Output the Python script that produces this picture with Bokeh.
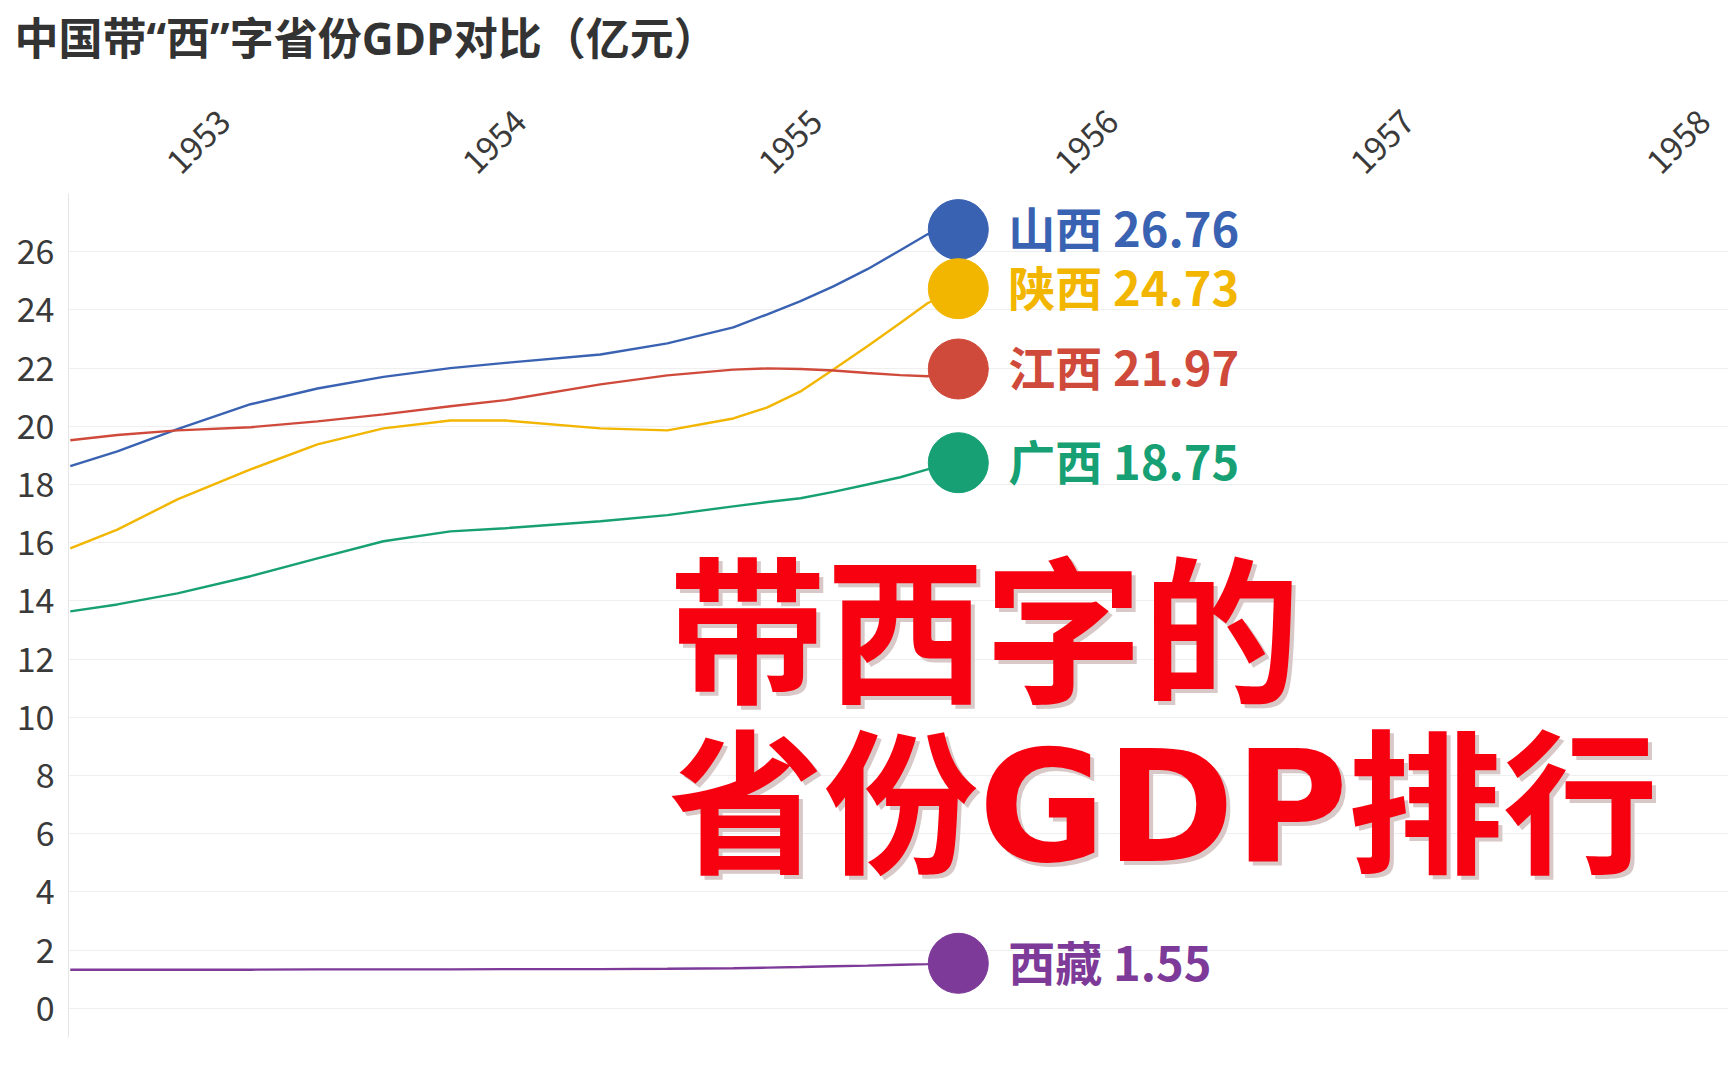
import math
from bokeh.plotting import figure
from bokeh.models import ColumnDataSource, Range1d, FixedTicker, Label, Title
from bokeh.core.properties import value
from bokeh.embed import file_html
from bokeh.resources import INLINE

# ---- data ----
years = [1952.655, 1952.814, 1953.017, 1953.264, 1953.490, 1953.713, 1953.939, 1954.125, 1954.446,
         1954.672, 1954.895, 1955.010, 1955.122, 1955.233, 1955.348, 1955.459, 1955.551, 1955.655]
provinces = ["山西", "陕西", "江西", "广西", "西藏"]
shanxi = [18.63, 19.14, 19.90, 20.76, 21.30, 21.70, 22.00, 22.18, 22.47,
          22.85, 23.40, 23.85, 24.30, 24.81, 25.40, 26.05, 26.60, 26.76]
shaanxi = [15.81, 16.45, 17.49, 18.52, 19.38, 19.93, 20.20, 20.20, 19.93,
           19.86, 20.27, 20.65, 21.20, 21.95, 22.75, 23.55, 24.23, 24.73]
jiangxi = [19.52, 19.70, 19.86, 19.97, 20.17, 20.41, 20.69, 20.90, 21.44,
           21.75, 21.95, 21.99, 21.97, 21.92, 21.83, 21.76, 21.72, 21.97]
guangxi = [13.64, 13.88, 14.26, 14.85, 15.46, 16.05, 16.39, 16.50, 16.74,
           16.95, 17.25, 17.40, 17.53, 17.75, 18.00, 18.25, 18.52, 18.75]
xizang = [1.33, 1.33, 1.33, 1.33, 1.34, 1.34, 1.34, 1.35, 1.35,
          1.36, 1.38, 1.40, 1.42, 1.45, 1.47, 1.50, 1.52, 1.55]
series_values = [shanxi, shaanxi, jiangxi, guangxi, xizang]
colors = ["#3a62b2", "#f2b600", "#cf4a3b", "#16a073", "#7d3a98"]
x_ticks = [1953, 1954, 1955, 1956, 1957, 1958]
y_ticks = [0, 2, 4, 6, 8, 10, 12, 14, 16, 18, 20, 22, 24, 26]
title_text = "中国带“西”字省份GDP对比（亿元）"
overlay_lines = ["带西字的", "省份GDP排行"]

FONT = "Noto Sans CJK SC"
MIXED = "Open Sans, Noto Sans CJK SC"
WIDE = "DejaVu Sans, Noto Sans CJK SC"

p = figure(width=1728, height=1080, output_backend="svg", toolbar_location=None,
           x_range=Range1d(1952.649, 1958.257), y_range=Range1d(-1, 28),
           x_axis_location="above", min_border_left=68, min_border_right=0,
           min_border_bottom=43, min_border_top=193)
p.outline_line_color = None
p.background_fill_color = "white"
p.border_fill_color = "white"

xa = p.xaxis[0]
xa.ticker = FixedTicker(ticks=x_ticks)
xa.major_label_orientation = math.pi / 4
xa.axis_line_color = None
xa.major_tick_line_color = None
xa.minor_tick_line_color = None
xa.major_label_standoff = 20
xa.major_label_text_font = FONT
xa.major_label_text_font_size = "33px"
xa.major_label_text_color = "#3a3a3a"

# spacer between the year labels and the chart title, then the title itself
p.add_layout(Title(text=" ", text_font_size="2px", standoff=24), "above")
p.add_layout(Title(text=title_text, text_font=MIXED, text_font_size="44px",
                   text_font_style="bold", text_color="#333333", align="left",
                   offset=-54, standoff=0), "above")

ya = p.yaxis[0]
ya.ticker = FixedTicker(ticks=y_ticks)
ya.axis_line_color = "#e6e6e6"
ya.major_tick_line_color = None
ya.minor_tick_line_color = None
ya.major_label_standoff = 8
ya.major_label_text_font = FONT
ya.major_label_text_font_size = "34px"
ya.major_label_text_color = "#3a3a3a"

p.xgrid.visible = False
p.ygrid.grid_line_color = "#efefef"
p.ygrid.grid_line_width = 1

# lines
for vals, col in zip(series_values, colors):
    src = ColumnDataSource(dict(x=years, y=vals))
    p.line("x", "y", source=src, line_color=col, line_width=2.4)

# end markers and labels
end_src = ColumnDataSource(dict(
    x=[years[-1] for _ in series_values],
    y=[v[-1] for v in series_values],
    text=[f"{n} {v[-1]:.2f}" for n, v in zip(provinces, series_values)],
    color=colors,
))
p.scatter("x", "y", source=end_src, size=60, fill_color="color", line_color="color")
p.text("x", "y", text="text", source=end_src, x_offset=50, y_offset=-3,
       text_baseline="middle", text_align="left", text_font=value(FONT),
       text_font_size=value("47px"), text_font_style="bold", text_color="color")

# big overlay caption
for line, yy, fs in zip(overlay_lines, [402, 230], ["158px", "155px"]):
    p.add_layout(Label(x=604, y=yy - 4, x_units="screen", y_units="screen", text=line,
                       text_font=WIDE, text_font_size=fs, text_font_style="bold",
                       text_color="#d8c8c8", text_baseline="middle", text_align="left"))
    p.add_layout(Label(x=600, y=yy, x_units="screen", y_units="screen", text=line,
                       text_font=WIDE, text_font_size=fs, text_font_style="bold",
                       text_color="#f70010", text_baseline="middle", text_align="left"))

open("out.html", "w").write(file_html(p, INLINE))
